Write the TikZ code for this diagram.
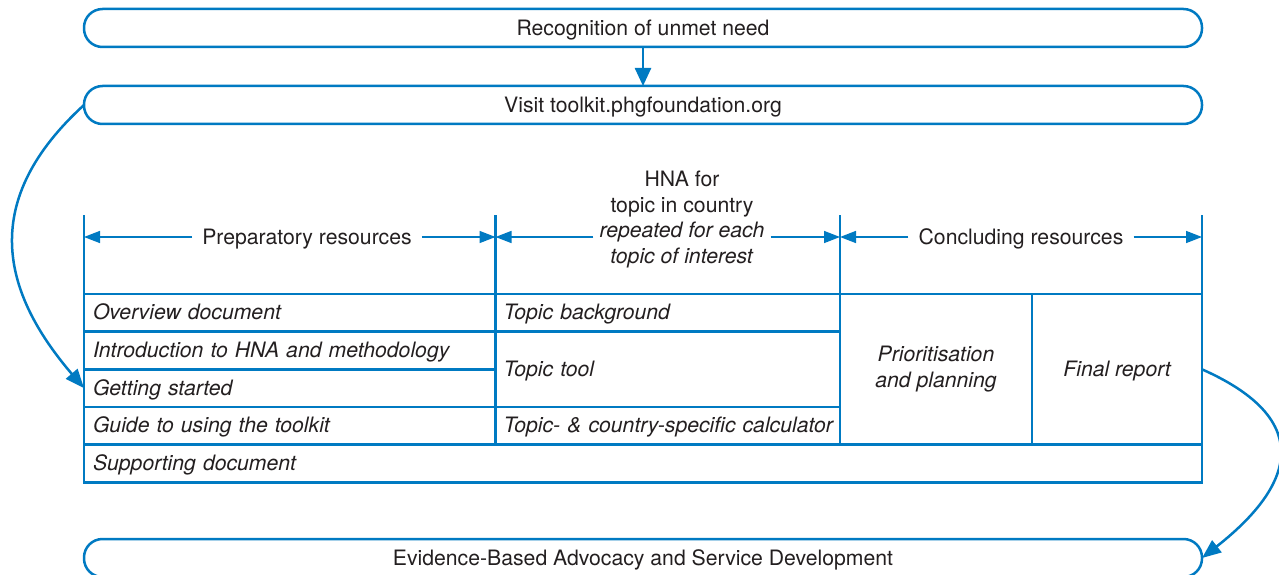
\documentclass[tikz,border=0pt]{standalone}
\usepackage{fontspec}
\setmainfont{TeX Gyre Heros}
\usetikzlibrary{arrows.meta}
\definecolor{bl}{RGB}{0,122,194}
\definecolor{tx}{RGB}{35,31,32}
\begin{document}
\begin{tikzpicture}[x=1pt,y=-1pt,
  every node/.style={font=\fontsize{21.2}{25.7}\selectfont, text=tx},
  pill/.style={draw=bl, line width=2.5pt, rounded corners=18.5pt, minimum width=1118pt, minimum height=38pt, inner sep=0pt, outer sep=0pt, text height=17pt, text depth=2.3pt},
  cellbox/.style={draw=bl, line width=2.5pt, inner ysep=0pt, inner xsep=9pt, outer sep=0pt, anchor=north west, align=left, text height=14.5pt, text depth=0.5pt, font=\fontsize{21.2}{25.7}\selectfont\itshape},
  ccell/.style={draw=bl, line width=2.5pt, inner sep=0pt, outer sep=0pt, anchor=north west, align=center, font=\fontsize{21.2}{25.7}\selectfont\itshape},
  tbl/.style={draw=bl, line width=2.5pt},
  hlab/.style={inner xsep=10pt, inner ysep=0pt},
  harrow/.style={draw=bl, line width=1.5pt, -{Triangle[length=16pt,width=12pt]}},
  varrow/.style={draw=bl, line width=2.5pt, -{Triangle[length=18pt,width=16pt]}},
  carrow/.style={draw=bl, line width=2.5pt, -{Triangle[length=19pt,width=15pt]}}
]
\useasboundingbox[fill=white] (0,0) rectangle (1279,575);

% rounded boxes
\node[pill] (rec) at (643,28) {Recognition of unmet need};
\node[pill] (vis) at (643,105) {Visit toolkit.phgfoundation.org};
\node[pill] (evi) at (643,558) {Evidence-Based Advocacy and Service Development};
\draw[varrow] (rec.south) -- (vis.north);

% table cells: left column
\node[cellbox, minimum width=411.5pt, minimum height=37.66pt, text width=393.5pt] (ov) at (84,294) {Overview document};
\node[cellbox, minimum width=411.5pt, minimum height=37.66pt, text width=393.5pt] (intro) at (84,331.66) {Introduction to HNA and methodology};
\node[cellbox, minimum width=411.5pt, minimum height=37.66pt, text width=393.5pt] (gs) at (84,369.33) {Getting started};
\node[cellbox, minimum width=411.5pt, minimum height=37.66pt, text width=393.5pt] (guide) at (84,407) {Guide to using the toolkit};
\node[cellbox, minimum width=1118pt, minimum height=37.66pt, text width=1100pt] (sup) at (84,444.66) {Supporting document};
% middle column
\node[cellbox, inner xsep=8pt, minimum width=344.5pt, minimum height=37.66pt, text width=328.5pt] (tb) at (495.5,294) {Topic background};
\node[cellbox, inner xsep=8pt, minimum width=344.5pt, minimum height=75.33pt, text width=328.5pt] (tt) at (495.5,331.66) {Topic tool};
\node[cellbox, inner xsep=8pt, minimum width=344.5pt, minimum height=37.66pt, text width=328.5pt] (calc) at (495.5,407) {\mbox{Topic- \& country-specific calculator}};
% right columns
\node[ccell, minimum width=192pt, minimum height=150.66pt] (pp) at (840,294) {Prioritisation\\and planning};
\node[ccell, minimum width=170pt, minimum height=150.66pt, text height=14.5pt, text depth=0.5pt] (fr) at (1032,294) {Final report};

% header vertical lines
\draw[tbl] (ov.north west) -- +(0,-79);
\draw[tbl] (tb.north west) -- +(0,-79);
\draw[tbl] (pp.north west) -- +(0,-79);
\draw[tbl] (fr.north east) -- +(0,-79);

% header labels and arrows
\coordinate (h0) at (84,237);
\coordinate (h1) at (495.5,237);
\coordinate (h2) at (840,237);
\coordinate (h3) at (1202,237);
\node[hlab] (prep) at (307,239) {Preparatory resources};
\node[inner xsep=6pt, inner ysep=0pt, align=center] (hna) at (682,219.5) {HNA for\\topic in country\\\textit{repeated for each}\\\textit{topic of interest}};
\node[hlab] (conc) at (1021,239) {Concluding resources};
\draw[harrow] (prep.west |- h0) -- (h0);
\draw[harrow] (prep.east |- h1) -- (h1);
\draw[harrow] (hna.west |- h1) -- (h1);
\draw[harrow] (hna.east |- h2) -- (h2);
\draw[harrow] (conc.west |- h2) -- (h2);
\draw[harrow] (conc.east |- h3) -- (h3);

% curved arrows
\draw[carrow] (vis.west) .. controls (-20,200) and (0,290) .. (gs.west);
\draw[carrow] (fr.east) .. controls (1305,415) and (1305,477) .. (evi.east);
\end{tikzpicture}
\end{document}
